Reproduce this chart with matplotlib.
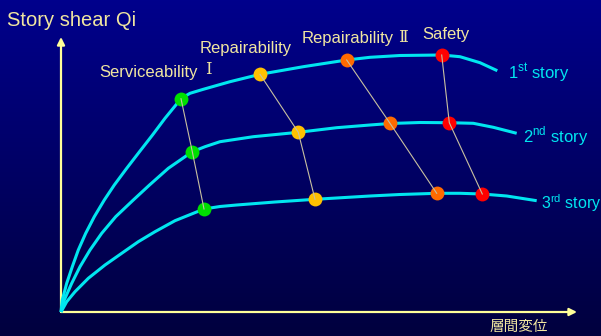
import matplotlib
matplotlib.use('Agg')
import matplotlib.pyplot as plt
import numpy as np

plt.rcParams['font.family'] = ['Liberation Sans', 'Noto Sans CJK JP', 'DejaVu Sans']
plt.rcParams['mathtext.fontset'] = 'custom'
plt.rcParams['mathtext.rm'] = 'Liberation Sans'

# Load-deformation curves (story drift vs story shear), arbitrary units
disp_1 = [0, 1.3, 5.7, 11.3, 17.3, 24.7, 33.3, 43.3, 53.3, 65.7, 78.5, 91.5, 104, 120, 129,
          142.3, 169, 199, 242.3, 285.7, 309, 339, 380.7, 399, 419, 436.3]
shear_1 = [0, 12, 28.7, 45.3, 62, 78.7, 95.3, 112, 127, 143.7, 160.3, 177, 193.7, 213.3, 218.7,
           222.7, 230.3, 237.7, 245.3, 252, 254.7, 256.5, 257, 255.3, 249.3, 241.3]

disp_2 = [0, 3.3, 10.7, 19, 29, 40.7, 54.7, 72.3, 88.5, 107.3, 131.3, 144, 159, 192.3,
          237.3, 275.7, 309, 329, 359, 388.3, 412.3, 432.3, 455.7]
shear_2 = [0, 12, 28.7, 45.3, 62, 78.7, 95.3, 112, 127, 143.7, 160.3, 165.3, 170.3, 175.3,
           179.7, 184.3, 187, 188.5, 189.5, 189.3, 188.7, 184.7, 178.7]

disp_3 = [0, 5.7, 14, 27.3, 44, 60.7, 77.3, 94, 114, 143, 159, 175.7, 214, 254, 309, 339,
          376, 399, 421.3, 445.7, 475.7]
shear_3 = [0, 10.3, 20.3, 33.7, 47, 58.7, 70.3, 80.3, 91.3, 103, 105.5, 107, 110, 112.7, 116,
           117.5, 118.7, 118.7, 118, 116, 111.3]

# Limit-state points, one per story (1st, 2nd, 3rd)
limit_states = ['Serviceability', 'Repairability I', 'Repairability II', 'Safety']
ls_disp = [[120, 131.3, 143], [199, 237.3, 254], [285.7, 329, 375.7], [380.7, 388.3, 421.3]]
ls_shear = [[213.3, 160.3, 103], [237.7, 179.7, 112.7], [252, 188.7, 118.7], [257, 189.3, 118]]
ls_colors = ['#00e000', '#ffc000', '#ff6a00', '#ff0000']

CURVE = '#00e6f0'
TEXT = '#f0e6a0'
AXIS = '#ffff99'

fig = plt.figure(figsize=(6.01, 3.36), dpi=100)
ax = fig.add_axes([0, 0, 1, 1])
ax.set_xlim(-61, 540)
ax.set_ylim(-24, 312)
ax.axis('off')

# background gradient, navy at top fading darker towards bottom
top = np.array([0, 0, 140]) / 255
bot = np.array([0, 0, 62]) / 255
t = np.linspace(0, 1, 256)[:, None]
grad = (top * (1 - t) + bot * t)[:, None, :]
ax.imshow(grad, extent=(-61, 540, -24, 312), aspect='auto', zorder=0)

# axes with arrowheads
ax.annotate('', xy=(0, 275), xytext=(0, 0),
            arrowprops=dict(arrowstyle='-|>', color=AXIS, lw=1.6, mutation_scale=11,
                            shrinkA=0, shrinkB=0), zorder=2)
ax.annotate('', xy=(516, 0), xytext=(0, 0),
            arrowprops=dict(arrowstyle='-|>', color=AXIS, lw=1.6, mutation_scale=11,
                            shrinkA=0, shrinkB=0), zorder=2)

for d, s in [(disp_1, shear_1), (disp_2, shear_2), (disp_3, shear_3)]:
    ax.plot(d, s, color=CURVE, lw=2.2, solid_capstyle='butt', solid_joinstyle='round',
            zorder=3)

for d, s, c in zip(ls_disp, ls_shear, ls_colors):
    ax.plot(d, s, ls='none', marker='o', ms=10, color=c, mec='none', zorder=4)
    ax.plot(d, s, color='#c8c0a0', lw=0.8, zorder=5)

roman = ['DejaVu Serif', 'Noto Sans CJK JP']
ax.text(-54, 292, 'Story shear Qi', color=TEXT, fontsize=14.5, ha='left', va='center')
ax.text(38, 239, 'Serviceability', color=TEXT, fontsize=12, ha='left', va='center')
ax.text(147, 242, 'Ⅰ', color=TEXT, fontsize=12, ha='center', va='center', family=roman)
ax.text(139, 263, 'Repairability', color=TEXT, fontsize=12, ha='left', va='center')
ax.text(241, 274, 'Repairability', color=TEXT, fontsize=12, ha='left', va='center')
ax.text(337, 274, 'Ⅱ', color=TEXT, fontsize=12, ha='left', va='center', family=roman)
ax.text(361, 278, 'Safety', color=TEXT, fontsize=12, ha='left', va='center')

ax.text(447, 239, r'1$^{\rm st}$ story', color=CURVE, fontsize=12, ha='left', va='center')
ax.text(462, 176, r'2$^{\rm nd}$ story', color=CURVE, fontsize=12, ha='left', va='center')
ax.text(480, 109, r'3$^{\rm rd}$ story', color=CURVE, fontsize=11.5, ha='left', va='center')

ax.text(429, -15, '層間変位', color=TEXT, fontsize=10.5, ha='left', va='center',
        family=['Noto Sans CJK JP'])

fig.savefig('out.png', dpi=100)
